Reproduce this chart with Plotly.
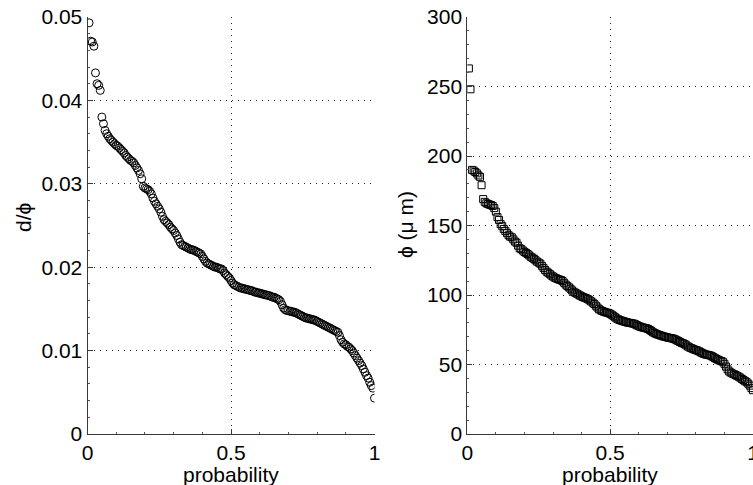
import plotly.graph_objects as go

# ---- data ----
d_over_phi = [
    0.0493, 0.0471, 0.0470, 0.0465, 0.0433, 0.0420, 0.0418, 0.0412, 0.0380, 0.0372,
    0.0364, 0.0360, 0.0357, 0.0354, 0.0352, 0.0350, 0.0348, 0.0346, 0.0345, 0.0343,
    0.0341, 0.0339, 0.0337, 0.0334, 0.0332, 0.0330, 0.0328, 0.0327, 0.0325, 0.0322,
    0.0319, 0.0316, 0.0312, 0.0306, 0.0297, 0.0295, 0.0294, 0.0293, 0.0291, 0.0288,
    0.0283, 0.0279, 0.0276, 0.0273, 0.0270, 0.0266, 0.0261, 0.0257, 0.0255, 0.0253,
    0.0251, 0.0248, 0.0246, 0.0244, 0.0241, 0.0238, 0.0234, 0.0230, 0.0227, 0.0226,
    0.0225, 0.0224, 0.0223, 0.0222, 0.0221, 0.0221, 0.0220, 0.0219, 0.0218, 0.0217,
    0.0216, 0.0213, 0.0210, 0.0207, 0.0205, 0.0204, 0.0203, 0.0202, 0.0201, 0.0200,
    0.0200, 0.0199, 0.0198, 0.0198, 0.0196, 0.0193, 0.0191, 0.0189, 0.0187, 0.0184,
    0.0181, 0.0179, 0.0178, 0.0177, 0.0176, 0.0175, 0.0175, 0.0174, 0.0174, 0.0173,
    0.0173, 0.0172, 0.0172, 0.0171, 0.0170, 0.0170, 0.0169, 0.0169, 0.0168, 0.0168,
    0.0167, 0.0167, 0.0166, 0.0166, 0.0165, 0.0164, 0.0164, 0.0163, 0.0162, 0.0161,
    0.0159, 0.0155, 0.0151, 0.0149, 0.0148, 0.0148, 0.0147, 0.0147, 0.0146, 0.0146,
    0.0145, 0.0144, 0.0143, 0.0142, 0.0141, 0.0140, 0.0139, 0.0139, 0.0138, 0.0138,
    0.0137, 0.0137, 0.0136, 0.0135, 0.0134, 0.0133, 0.0132, 0.0131, 0.0130, 0.0129,
    0.0128, 0.0127, 0.0126, 0.0125, 0.0124, 0.0123, 0.0122, 0.0118, 0.0113, 0.0110,
    0.0108, 0.0107, 0.0105, 0.0104, 0.0102, 0.0100, 0.0097, 0.0094, 0.0091, 0.0088,
    0.0085, 0.0082, 0.0078, 0.0074, 0.0070, 0.0067, 0.0062, 0.0058, 0.0055, 0.0043,
]

phi_um = [
    263, 248, 190, 189.5, 188.5, 187.5, 186, 185, 179, 169,
    167, 166, 165.5, 165, 164.7, 164, 162.5, 160, 156, 154,
    151, 149.5, 147.5, 146, 144.5, 143, 142, 141.5, 140, 138.5,
    137.6, 135.5, 133.6, 133, 132, 131, 130.3, 129.5, 128.5, 127.5,
    126.8, 126, 125, 124, 123.3, 122.5, 121, 119.5, 118, 116.8,
    116, 115, 114, 113.3, 112.5, 112, 111.5, 111, 110.8, 110,
    108.8, 107.5, 106.5, 105.5, 104.5, 103.3, 102.3, 101.6, 101, 100.3,
    99.6, 99, 98.5, 98, 97.6, 97, 96.2, 95.4, 94.5, 93.5,
    92.3, 91, 89.8, 89, 88.5, 88, 87.6, 87.3, 87, 86.5,
    85.8, 85, 84, 83.2, 82.5, 82, 81.6, 81.2, 80.9, 80.5,
    80.2, 80, 79.8, 79.6, 79.3, 78.8, 78.2, 77.6, 77.2, 76.8,
    76.5, 76.2, 76, 75.5, 74.8, 74, 73.2, 72.6, 72, 71.6,
    71.2, 70.8, 70.4, 70.1, 69.8, 69.5, 69.2, 69, 68.8, 68.5,
    68, 67.4, 66.8, 66.2, 65.6, 65.2, 64.6, 63.8, 63, 62.3,
    61.8, 61.3, 60.8, 60.4, 60, 59.5, 58.8, 58.2, 57.7, 57.3,
    57, 56.8, 56.5, 56, 55.3, 54.6, 54, 53.4, 52.9, 52.4,
    52, 50.5, 48.5, 46.5, 45, 44.2, 43.5, 43, 42.4, 41.8,
    41.2, 40.5, 39.6, 38.8, 38, 37.3, 36.2, 34.8, 33, 31.5,
]

# empirical probability (rank / N)
probability = [(k + 1) / len(d_over_phi) for k in range(len(d_over_phi))]

x_ticks = [0, 0.5, 1]
x_tick_labels = ["0", "0.5", "1"]
y1_ticks = [0, 0.01, 0.02, 0.03, 0.04, 0.05]
y1_tick_labels = ["0", "0.01", "0.02", "0.03", "0.04", "0.05"]
y2_ticks = [0, 50, 100, 150, 200, 250, 300]
y2_tick_labels = ["0", "50", "100", "150", "200", "250", "300"]

FONT = "Liberation Sans, Arial, Helvetica, sans-serif"
W, H = 753, 485

fig = go.Figure()
fig.add_trace(go.Scatter(
    x=probability, y=d_over_phi, mode="markers", xaxis="x", yaxis="y",
    marker=dict(symbol="circle-open", size=8, color="black", line=dict(width=1, color="black")),
    showlegend=False,
))
fig.add_trace(go.Scatter(
    x=probability, y=phi_um, mode="markers", xaxis="x2", yaxis="y2",
    marker=dict(symbol="square-open", size=7, color="black", line=dict(width=1, color="black")),
    showlegend=False,
))

ydom = [(H - 434) / H, (H - 17) / H]
dom1 = [87.5 / W, 374.5 / W]
dom2 = [467.3 / W, 1.0]

common_axis = dict(
    showline=True, linecolor="#3a3a3a", linewidth=1,
    showgrid=True, gridcolor="#222", gridwidth=1, griddash="1px,5px",
    zeroline=False, ticks="inside", ticklen=5, tickcolor="#3a3a3a",
    minor=dict(ticks="inside", ticklen=2, tickcolor="#555", showgrid=False),
    tickfont=dict(family=FONT, size=21, color="black"),
    mirror=False, automargin=False, ticklabeloverflow="allow",
)

fig.update_layout(
    width=W, height=H,
    margin=dict(l=0, r=0, t=0, b=0, autoexpand=False),
    paper_bgcolor="white", plot_bgcolor="white",
    font=dict(family=FONT, size=21, color="black"),
    xaxis=dict(domain=dom1, range=[0, 1], anchor="y", tickvals=x_ticks, ticktext=x_tick_labels,
               **common_axis),
    yaxis=dict(domain=ydom, range=[0, 0.05], anchor="x", tickvals=y1_ticks, ticktext=y1_tick_labels,
               **common_axis),
    xaxis2=dict(domain=dom2, range=[0, 1], anchor="y2", tickvals=x_ticks, ticktext=x_tick_labels,
                **common_axis),
    yaxis2=dict(domain=ydom, range=[0, 300], anchor="x2", tickvals=y2_ticks, ticktext=y2_tick_labels,
                **common_axis),
)

fig.update_xaxes(minor=dict(dtick=0.1))
fig.update_yaxes(minor=dict(dtick=0.002), selector=dict(anchor="x"))
fig.update_yaxes(minor=dict(dtick=10), selector=dict(anchor="x2"))

# axis titles as annotations (paper coordinates)
fig.add_annotation(x=231 / W, y=(H - 474) / H, xref="paper", yref="paper", text="probability",
                   showarrow=False, font=dict(family=FONT, size=21), xanchor="center", yanchor="middle")
fig.add_annotation(x=610 / W, y=(H - 474) / H, xref="paper", yref="paper", text="probability",
                   showarrow=False, font=dict(family=FONT, size=21), xanchor="center", yanchor="middle")
fig.add_annotation(x=24 / W, y=(H - 218) / H, xref="paper", yref="paper", text="d/ϕ", textangle=-90,
                   showarrow=False, font=dict(family=FONT, size=21), xanchor="center", yanchor="middle")
fig.add_annotation(x=405 / W, y=(H - 225) / H, xref="paper", yref="paper", text="ϕ (μ m)", textangle=-90,
                   showarrow=False, font=dict(family=FONT, size=21), xanchor="center", yanchor="middle")

fig.write_html("out.html", config={"displayModeBar": False},
               post_script="document.body.style.margin='0';document.body.style.overflow='hidden';")
